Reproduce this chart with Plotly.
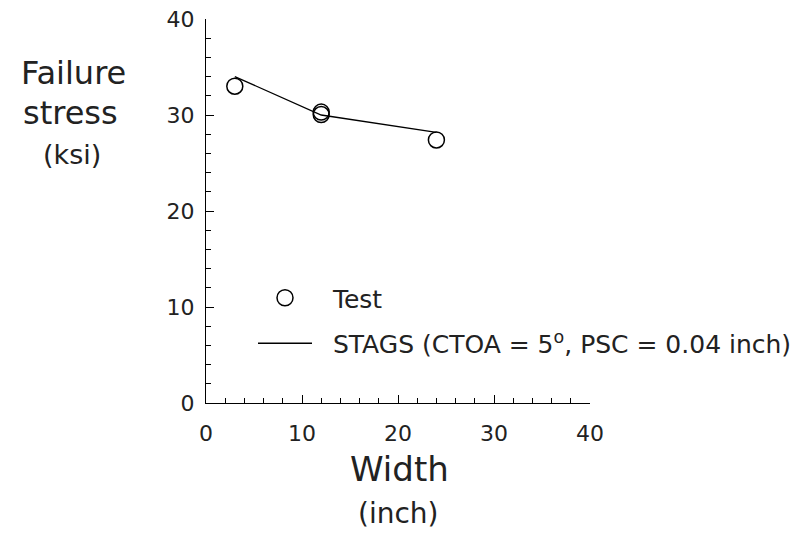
import plotly.graph_objects as go

# Data
test_width = [3, 12, 12, 24]
test_stress = [33.0, 30.3, 30.05, 27.4]
stags_width = [3, 12, 24]
stags_stress = [34.0, 30.0, 28.2]

x_ticks = [0, 10, 20, 30, 40]
y_ticks = [0, 10, 20, 30, 40]

FONT = "DejaVu Sans"

fig = go.Figure()
fig.add_trace(go.Scatter(
    x=test_width, y=test_stress, mode="markers", name="\u00a0\u00a0Test",
    marker=dict(symbol="circle-open", size=16, color="black", line=dict(width=1.5, color="black")),
    legendgroup="a",
))
fig.add_trace(go.Scatter(
    x=stags_width, y=stags_stress, mode="lines",
    name="\u00a0\u00a0STAGS (CTOA = 5<sup>o</sup>, PSC = 0.04 inch)",
    line=dict(color="black", width=1.3),
    legendgroup="b",
))

L, R, T, B = 206, 590, 19, 403
W, H = 800, 533

def px(x):
    return (x - L) / (R - L)

def py(y):
    return (B - y) / (B - T)

axis_common = dict(
    showline=True, linecolor="black", linewidth=1.3,
    ticks="inside", ticklen=8, tickwidth=1.3, tickcolor="black",
    showgrid=False, zeroline=False, mirror=False,
    tickfont=dict(family=FONT, size=22, color="#222"),
    minor=dict(ticks="inside", ticklen=5, tickwidth=1.3, tickcolor="black", dtick=2),
)

fig.update_xaxes(range=[0, 40], tickvals=x_ticks, ticklabelstandoff=10, **axis_common)
fig.update_yaxes(range=[0, 40], tickvals=y_ticks, ticklabelstandoff=6, **axis_common)

fig.update_layout(
    width=W, height=H,
    margin=dict(l=L, r=W - R, t=T, b=H - B, autoexpand=False),
    plot_bgcolor="white", paper_bgcolor="white",
    font=dict(family=FONT, color="#222"),
    showlegend=True,
    legend=dict(
        x=px(253), y=py(275), xanchor="left", yanchor="top",
        font=dict(family=FONT, size=25, color="#222"),
        itemwidth=54, tracegroupgap=10, traceorder="grouped",
        bgcolor="rgba(0,0,0,0)",
    ),
)

anns = [
    ("Failure", 73, 73, 32),
    ("stress", 70, 113, 32),
    ("(ksi)", 72, 154, 27),
    ("Width", 399, 469, 34),
    ("(inch)", 398, 513, 28),
]
for text, x, y, size in anns:
    fig.add_annotation(
        text=text, x=px(x), y=py(y), xref="paper", yref="paper",
        xanchor="center", yanchor="middle", showarrow=False,
        font=dict(family=FONT, size=size, color="#222"),
    )

fig.write_html("out.html")
